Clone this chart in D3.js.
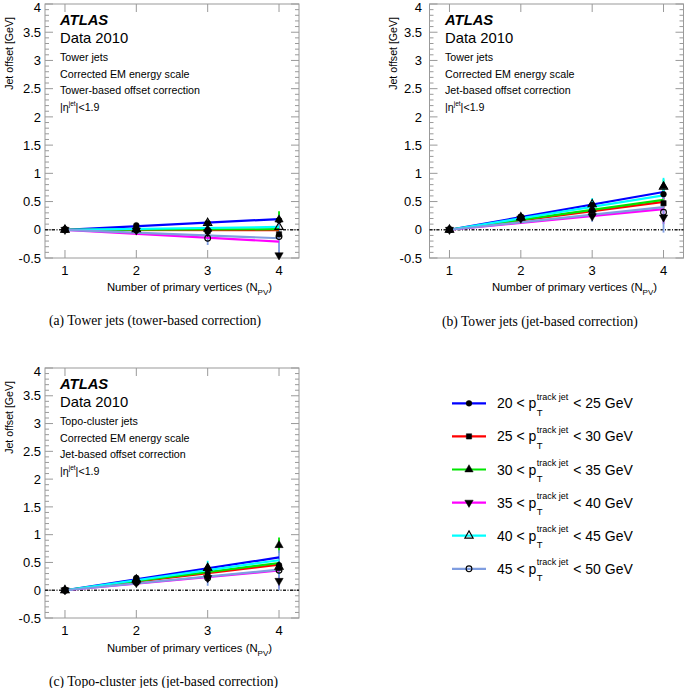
<!DOCTYPE html>
<html><head><meta charset="utf-8">
<script src="https://cdn.jsdelivr.net/npm/d3@7"></script>
<style>body{margin:0;background:#fff}svg{display:block}</style>
</head><body>
<svg id="c" width="685" height="688"></svg>
<script>
// ---------------- data ----------------
const npv = [1, 2, 3, 4];
const xTicks = [1, 2, 3, 4];
const xTickLabels = ["1", "2", "3", "4"];
const yTicks = [-0.5, 0, 0.5, 1, 1.5, 2, 2.5, 3, 3.5, 4];
const yTickLabels = ["-0.5", "0", "0.5", "1", "1.5", "2", "2.5", "3", "3.5", "4"];
const binLow = [20, 25, 30, 35, 40, 45];
const binHigh = [25, 30, 35, 40, 45, 50];

// (a) Tower jets, tower-based correction
const towerTowerVals = [
  [0, 0.08, 0.12, 0.17],
  [0, 0.01, -0.02, -0.08],
  [0, 0.01, 0.01, 0.18],
  [0, -0.01, -0.04, -0.45],
  [0, 0.01, 0.12, 0.05],
  [0, 0.00, -0.15, -0.12]
];
const towerTowerErrs = [
  [0.01, 0.02, 0.03, 0.06],
  [0.01, 0.02, 0.04, 0.08],
  [0.01, 0.02, 0.05, 0.15],
  [0.01, 0.02, 0.06, 0.05],
  [0.01, 0.02, 0.04, 0.10],
  [0.01, 0.02, 0.12, 0.38]
];
const towerTowerFit = [[0, 0.19], [0, -0.005], [0, 0.01], [0, -0.21], [0, 0.05], [0, -0.15]];

// (b) Tower jets, jet-based correction
const towerJetVals = [
  [0, 0.23, 0.44, 0.63],
  [0, 0.22, 0.33, 0.47],
  [0, 0.21, 0.36, 0.77],
  [0, 0.20, 0.24, 0.22],
  [0, 0.22, 0.45, 0.76],
  [0, 0.21, 0.28, 0.31]
];
const towerJetErrs = [
  [0.01, 0.02, 0.05, 0.08],
  [0.01, 0.02, 0.05, 0.09],
  [0.01, 0.02, 0.06, 0.12],
  [0.01, 0.02, 0.06, 0.12],
  [0.01, 0.03, 0.11, 0.16],
  [0.01, 0.03, 0.14, 0.36]
];
const towerJetFit = [[0, 0.67], [0, 0.495], [0, 0.53], [0, 0.365], [0, 0.61], [0, 0.40]];

// (c) Topo-cluster jets, jet-based correction
const topoJetVals = [
  [0, 0.22, 0.38, 0.45],
  [0, 0.19, 0.29, 0.40],
  [0, 0.17, 0.40, 0.81],
  [0, 0.13, 0.22, 0.17],
  [0, 0.19, 0.40, 0.42],
  [0, 0.14, 0.22, 0.36]
];
const topoJetErrs = [
  [0.01, 0.02, 0.05, 0.08],
  [0.01, 0.02, 0.05, 0.09],
  [0.01, 0.02, 0.06, 0.14],
  [0.01, 0.02, 0.07, 0.12],
  [0.01, 0.02, 0.13, 0.17],
  [0.01, 0.03, 0.14, 0.36]
];
const topoJetFit = [[0, 0.59], [0, 0.46], [0, 0.49], [0, 0.355], [0, 0.54], [0, 0.37]];

// ---------------- style ----------------
const colors = ["#0000ff", "#ff0000", "#00e600", "#ff00ff", "#00ffff", "#7f9de0"];
const markers = [
  {type: d3.symbolCircle, size: 26, fill: true, rot: 0},
  {type: d3.symbolSquare, size: 28, fill: true, rot: 0},
  {type: d3.symbolTriangle, size: 30, fill: true, rot: 0},
  {type: d3.symbolTriangle, size: 30, fill: true, rot: 180},
  {type: d3.symbolTriangle, size: 30, fill: false, rot: 0},
  {type: d3.symbolCircle, size: 26, fill: false, rot: 0}
];
const SANS = "'Liberation Sans', Arial, Helvetica, sans-serif";
const SERIF = "'Liberation Serif', 'Times New Roman', serif";
const frameColor = "#9a9a9a";

const panels = [
  {vals: towerTowerVals, errs: towerTowerErrs, fit: towerTowerFit,
   x0: 45, x1: 299, yb: 258, yt: 4, textX: 60, yTitleX: 13, yLabX: 41,
   lines: ["Tower jets", "Corrected EM energy scale", "Tower-based offset correction"],
   caption: "(a) Tower jets (tower-based correction)", capX: 49, capY: 324.5,
   xTitleX: 272, xTitleY: 291},
  {vals: towerJetVals, errs: towerJetErrs, fit: towerJetFit,
   x0: 429.5, x1: 683.5, yb: 258, yt: 4, textX: 445, yTitleX: 397, yLabX: 422,
   lines: ["Tower jets", "Corrected EM energy scale", "Jet-based offset correction"],
   caption: "(b) Tower jets (jet-based correction)", capX: 442, capY: 326,
   xTitleX: 657, xTitleY: 291},
  {vals: topoJetVals, errs: topoJetErrs, fit: topoJetFit,
   x0: 45, x1: 299, yb: 618, yt: 368, textX: 60, yTitleX: 13, yLabX: 41,
   lines: ["Topo-cluster jets", "Corrected EM energy scale", "Jet-based offset correction"],
   caption: "(c) Topo-cluster jets (jet-based correction)", capX: 49, capY: 686,
   xTitleX: 272, xTitleY: 652}
];

const svg = d3.select("#c");

function drawMarker(g, m, cx, cy) {
  g.append("path")
    .attr("d", d3.symbol().type(m.type).size(m.size)())
    .attr("transform", `translate(${cx},${cy}) rotate(${m.rot})`)
    .attr("fill", m.fill ? "#000" : "none")
    .attr("stroke", "#000")
    .attr("stroke-width", m.fill ? 0.5 : 1.1);
}

panels.forEach(p => {
  const x = d3.scaleLinear().domain([0.72, 4.28]).range([p.x0, p.x1]);
  const y = d3.scaleLinear().domain([-0.5, 4]).range([p.yb, p.yt]);
  const g = svg.append("g");

  // frame
  g.append("rect").attr("x", p.x0).attr("y", p.yt)
    .attr("width", p.x1 - p.x0).attr("height", p.yb - p.yt)
    .attr("fill", "none").attr("stroke", frameColor).attr("stroke-width", 1);

  // y ticks (major + minor) on both sides
  y.ticks(45).forEach(v => {
    const major = yTicks.some(t => Math.abs(t - v) < 1e-6);
    const L = major ? 8 : 4;
    g.append("line").attr("x1", p.x0).attr("x2", p.x0 + L).attr("y1", y(v)).attr("y2", y(v))
      .attr("stroke", frameColor);
    g.append("line").attr("x1", p.x1).attr("x2", p.x1 - L).attr("y1", y(v)).attr("y2", y(v))
      .attr("stroke", frameColor);
  });
  yTicks.forEach((v, i) => {
    g.append("text").attr("x", p.yLabX).attr("y", Math.max(y(v), p.yt + 3)).attr("dy", "0.36em")
      .attr("text-anchor", "end").attr("font-family", SANS).attr("font-size", 13)
      .text(yTickLabels[i]);
  });
  // x ticks
  xTicks.forEach((v, i) => {
    g.append("line").attr("x1", x(v)).attr("x2", x(v)).attr("y1", p.yb).attr("y2", p.yb - 8)
      .attr("stroke", frameColor);
    g.append("line").attr("x1", x(v)).attr("x2", x(v)).attr("y1", p.yt).attr("y2", p.yt + 8)
      .attr("stroke", frameColor);
    g.append("text").attr("x", x(v)).attr("y", p.yb + 17)
      .attr("text-anchor", "middle").attr("font-family", SANS).attr("font-size", 13)
      .text(xTickLabels[i]);
  });

  // axis titles
  g.append("text").attr("transform", `translate(${p.yTitleX},${p.yt + 13}) rotate(-90)`)
    .attr("text-anchor", "end").attr("font-family", SANS).attr("font-size", 10.6)
    .text("Jet offset [GeV]");
  const xt = g.append("text").attr("x", p.xTitleX).attr("y", p.xTitleY)
    .attr("text-anchor", "end").attr("font-family", SANS).attr("font-size", 11.3);
  xt.append("tspan").text("Number of primary vertices (N");
  xt.append("tspan").attr("font-size", 8).attr("dy", 3.5).text("PV");
  xt.append("tspan").attr("dy", -3.5).text(")");

  // zero line
  g.append("line").attr("x1", p.x0).attr("x2", p.x1).attr("y1", y(0)).attr("y2", y(0))
    .attr("stroke", "#222").attr("stroke-width", 1.4).attr("stroke-dasharray", "3,1.5,1,1.5");

  // error bars
  p.vals.forEach((vals, s) => {
    vals.forEach((v, i) => {
      const e = p.errs[s][i];
      g.append("line").attr("x1", x(npv[i])).attr("x2", x(npv[i]))
        .attr("y1", y(v - e)).attr("y2", y(v + e))
        .attr("stroke", colors[s]).attr("stroke-width", 1.8);
    });
  });
  // fit lines
  p.fit.forEach((f, s) => {
    g.append("line").attr("x1", x(npv[0])).attr("y1", y(f[0]))
      .attr("x2", x(npv[3])).attr("y2", y(f[1]))
      .attr("stroke", colors[s]).attr("stroke-width", 2.2);
  });
  // markers
  p.vals.forEach((vals, s) => {
    vals.forEach((v, i) => drawMarker(g, markers[s], x(npv[i]), y(v)));
  });

  // text block
  const ty = p.yt;
  g.append("text").attr("x", p.textX).attr("y", ty + 20.7)
    .attr("font-family", SANS).attr("font-size", 14.8).attr("font-weight", "bold")
    .attr("font-style", "italic").text("ATLAS");
  g.append("text").attr("x", p.textX).attr("y", ty + 39.3)
    .attr("font-family", SANS).attr("font-size", 14.8).text("Data 2010");
  p.lines.forEach((t, k) => {
    g.append("text").attr("x", p.textX).attr("y", ty + 57 + k * 16.5)
      .attr("font-family", SANS).attr("font-size", 10.7).text(t);
  });
  const eta = g.append("text").attr("x", p.textX).attr("y", ty + 57 + 3 * 16.5)
    .attr("font-family", SANS).attr("font-size", 10.7);
  eta.append("tspan").text("|η");
  eta.append("tspan").attr("font-size", 6.5).attr("dy", -4.5).text("jet");
  eta.append("tspan").attr("dy", 4.5).text("|<1.9");

  // caption
  g.append("text").attr("x", p.capX).attr("y", p.capY)
    .attr("font-family", SERIF).attr("font-size", 13.6).text(p.caption);
});

// ---------------- legend ----------------
const lg = svg.append("g");
binLow.forEach((lo, s) => {
  const ry = 403.3 + s * 33.1;
  lg.append("line").attr("x1", 452).attr("x2", 486).attr("y1", ry).attr("y2", ry)
    .attr("stroke", colors[s]).attr("stroke-width", 2.2);
  drawMarker(lg, markers[s], 469, ry);
  const x0 = 497;
  const t1 = lg.append("text").attr("x", x0).attr("y", ry + 5)
    .attr("font-family", SANS).attr("font-size", 14).text(`${lo} < p`);
  const w1 = t1.node().getComputedTextLength();
  const sup = lg.append("text").attr("x", x0 + w1 + 0.5).attr("y", ry - 3.5)
    .attr("font-family", SANS).attr("font-size", 9).text("track jet");
  const w2 = sup.node().getComputedTextLength();
  lg.append("text").attr("x", x0 + w1 + 0.5).attr("y", ry + 12.5)
    .attr("font-family", SANS).attr("font-size", 9.5).text("T");
  lg.append("text").attr("x", x0 + w1 + w2 + 1.5).attr("y", ry + 5)
    .attr("font-family", SANS).attr("font-size", 14).text(` < ${binHigh[s]} GeV`)
    .attr("xml:space", "preserve").style("white-space", "pre");
});
</script>
</body></html>
